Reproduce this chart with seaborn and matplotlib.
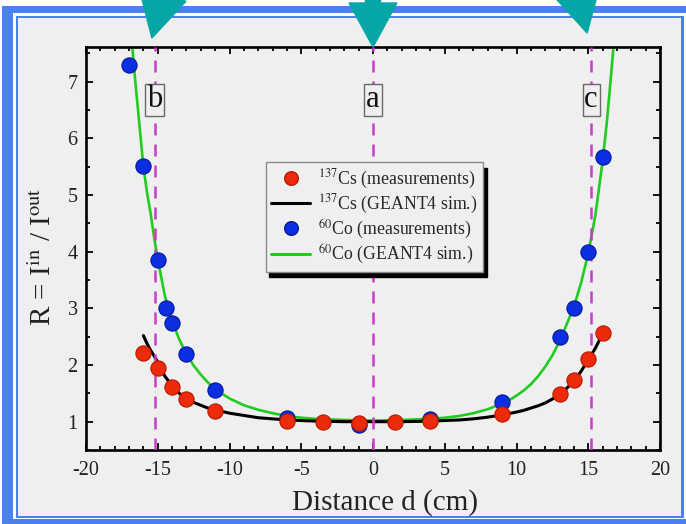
import numpy as np
import pandas as pd
import matplotlib
matplotlib.use("Agg")
import matplotlib.pyplot as plt
import seaborn as sns
from matplotlib.lines import Line2D
from matplotlib.patches import Rectangle, FancyArrow
from matplotlib.transforms import IdentityTransform
from matplotlib.ticker import MultipleLocator

# ---------------- data ----------------
cs_meas_d = [-16, -15, -14, -13, -11, -6, -3.5, -1, 1.5, 4, 9, 13, 14, 15, 16]
cs_meas_R = [2.21, 1.94, 1.61, 1.40, 1.19, 1.02, 1.00, 0.98, 1.00, 1.02, 1.13, 1.49, 1.74, 2.11, 2.56]

co_meas_d = [-17, -16, -15, -14.4, -14, -13, -11, -6, -1, 4, 9, 13, 14, 15, 16]
co_meas_R = [7.29, 5.52, 3.86, 3.01, 2.75, 2.19, 1.56, 1.07, 0.95, 1.04, 1.35, 2.49, 3.01, 3.99, 5.67]

cs_sim_d = [-16, -15.75, -15.5, -15.25, -15, -14.5, -14, -13.5, -13, -12.5, -12, -11.5, -11, -10.5, -10,
            -9, -8, -7, -6, -5, -4, -2, 0, 2, 4, 5, 6, 7, 8, 9, 10, 10.5, 11, 11.5, 12, 12.5,
            13, 13.5, 14, 14.5, 15, 15.5, 16]
cs_sim_R = [2.52, 2.38, 2.26, 2.16, 2.05, 1.80, 1.64, 1.50, 1.41, 1.34, 1.29, 1.24, 1.21, 1.18, 1.15,
            1.11, 1.07, 1.05, 1.03, 1.02, 1.01, 1.00, 1.00, 1.00, 1.01, 1.02, 1.03, 1.05, 1.08, 1.12, 1.17, 1.20, 1.24, 1.28, 1.33, 1.40,
            1.48, 1.59, 1.72, 1.89, 2.09, 2.30, 2.55]

co_sim_d = [-16.85, -16.6, -16.3, -16, -15.75, -15.5, -15.25, -15, -14.5, -14, -13.5, -13, -12.5, -12, -11.5,
            -11, -10.5, -10, -9, -8, -7, -6, -5, -4, -2, 0, 2, 4, 5, 6, 7, 8, 9, 9.5, 10, 10.5, 11, 11.5,
            12, 12.5, 13, 13.5, 14, 14.5, 15, 15.5, 16, 16.3, 16.6, 16.85]
co_sim_R = [7.85, 7.10, 6.30, 5.50, 5.05, 4.68, 4.25, 3.86, 3.22, 2.78, 2.45, 2.20, 1.99, 1.83, 1.69,
            1.58, 1.49, 1.41, 1.29, 1.21, 1.15, 1.10, 1.07, 1.05, 1.03, 1.02, 1.03, 1.05, 1.07, 1.10, 1.15, 1.22, 1.32, 1.38, 1.46, 1.55, 1.66, 1.80,
            1.97, 2.17, 2.42, 2.72, 3.03, 3.45, 3.97, 4.65, 5.60, 6.30, 7.15, 7.90]

marker_pos = [-15.2, 0, 15.2]
marker_lbl = ["b", "a", "c"]

legend_labels = [r"$^{137}$Cs (measurements)", r"$^{137}$Cs (GEANT4 sim.)",
                 r"$^{60}$Co (measurements)", r"$^{60}$Co (GEANT4 sim.)"]

# ---------------- style ----------------
sns.set_theme(style="ticks")
plt.rcParams["font.family"] = ["Liberation Serif", "DejaVu Serif"]
plt.rcParams["mathtext.fontset"] = "stix"
plt.rcParams["axes.unicode_minus"] = False

RED, RED_E = "#ec2a0c", "#b81a00"
BLUE, BLUE_E = "#0b2fe0", "#001a9a"
GREEN = "#1fcc1f"
MAG = "#c93cc9"
TEAL = "#06a6a6"
FRAME = "#4a80f2"
BG = "#efefef"

W, H = 686, 524
fig = plt.figure(figsize=(W / 100, H / 100), dpi=100)
fig.patch.set_facecolor("white")

def rect(x0, top, x1, bottom, color, z=-10):
    r = Rectangle((x0, H - bottom), x1 - x0, bottom - top, transform=IdentityTransform(),
                  facecolor=color, edgecolor="none", zorder=z)
    fig.add_artist(r)

rect(2, 6, 700, 540, FRAME, -14)
rect(13, 13, 693, 519, "white", -13)
rect(15.5, 15.5, 683.5, 518, FRAME, -12)
rect(18, 18, 681, 515.5, BG, -11)

ax = fig.add_axes([86 / W, 1 - 450 / H, 574 / W, 403.3 / H])
ax.set_facecolor(BG)

# curves
sns.lineplot(x=co_sim_d, y=co_sim_R, ax=ax, color=GREEN, lw=1.9, zorder=2, legend=False)
sns.lineplot(x=cs_sim_d, y=cs_sim_R, ax=ax, color="black", lw=2.2, zorder=3, legend=False)

# dashed position lines
for xp in marker_pos:
    ax.axvline(xp, color=MAG, lw=1.8, dashes=(4.8, 3.6), zorder=3.5)

# measurements
sns.scatterplot(x=co_meas_d, y=co_meas_R, ax=ax, s=120, color=BLUE, edgecolor=BLUE_E,
                linewidth=0.8, zorder=4, legend=False)
sns.scatterplot(x=cs_meas_d, y=cs_meas_R, ax=ax, s=120, color=RED, edgecolor=RED_E,
                linewidth=0.8, zorder=5, legend=False)

# labels in boxes
for xp, lb in zip(marker_pos, marker_lbl):
    ax.text(xp, 6.68, lb, ha="center", va="center", fontsize=22, color="#111111", zorder=6,
            bbox=dict(boxstyle="square,pad=0.06", fc=BG, ec="#6a6a6a", lw=1))

ax.set_xlim(-20, 20)
ax.set_ylim(0.5, 7.62)
ax.xaxis.set_major_locator(MultipleLocator(5))
ax.xaxis.set_minor_locator(MultipleLocator(1))
ax.yaxis.set_major_locator(MultipleLocator(1))
ax.yaxis.set_minor_locator(MultipleLocator(0.5))
ax.tick_params(which="both", direction="in", top=True, right=True, width=1.3, color="black")
ax.tick_params(which="major", length=5.2, labelsize=14.5, labelcolor="#222222")
ax.tick_params(which="minor", length=3.2)
ax.tick_params(axis="x", pad=8)
ax.tick_params(axis="y", pad=6)
for sp in ax.spines.values():
    sp.set_linewidth(1.9)
    sp.set_color("black")

ax.set_xlabel("Distance d (cm)", fontsize=21, color="#222222")
ax.set_ylabel(r"R = I$^{\rm in}$ / I$^{\rm out}$", fontsize=21, color="#222222")
ax.xaxis.set_label_coords(0.521, -0.097)
ax.yaxis.set_label_coords(-0.05, 0.48)

handles = [
    Line2D([], [], ls="none", marker="o", markersize=9.8, markerfacecolor=RED, markeredgecolor=RED_E),
    Line2D([], [], color="black", lw=2.2),
    Line2D([], [], ls="none", marker="o", markersize=9.8, markerfacecolor=BLUE, markeredgecolor=BLUE_E),
    Line2D([], [], color=GREEN, lw=2.2),
]
leg = ax.legend(handles, legend_labels, loc="upper left", bbox_to_anchor=(0.3136, 0.714),
                borderaxespad=0, fontsize=12.8, frameon=True, fancybox=False,
                edgecolor="#8a8a8a", facecolor=BG, framealpha=1,
                shadow={"ox": 2.4, "oy": -4.0, "color": "black", "alpha": 1},
                handlelength=2.2, handletextpad=0.45, labelspacing=0.12, borderpad=0.3)
leg.get_frame().set_linewidth(1)
leg.set_zorder(7)

# teal arrows above the plot
fig.canvas.draw()
for xp, off, tail in zip(marker_pos, [-3, 0, -4], [16, 0, -14]):
    xt = ax.transData.transform((xp, 7.62))[0] + off
    ytip = {-15.2: H - 38, 0: H - 47, 15.2: H - 33}[xp]
    x0, y0 = xt + tail, H + 25
    arr = FancyArrow(x0, y0, xt - x0, ytip - y0, width=15, head_width=48, head_length=44,
                     length_includes_head=True, transform=IdentityTransform(),
                     color=TEAL, zorder=20)
    fig.add_artist(arr)

fig.savefig("out.png", dpi=100, facecolor=fig.get_facecolor())
